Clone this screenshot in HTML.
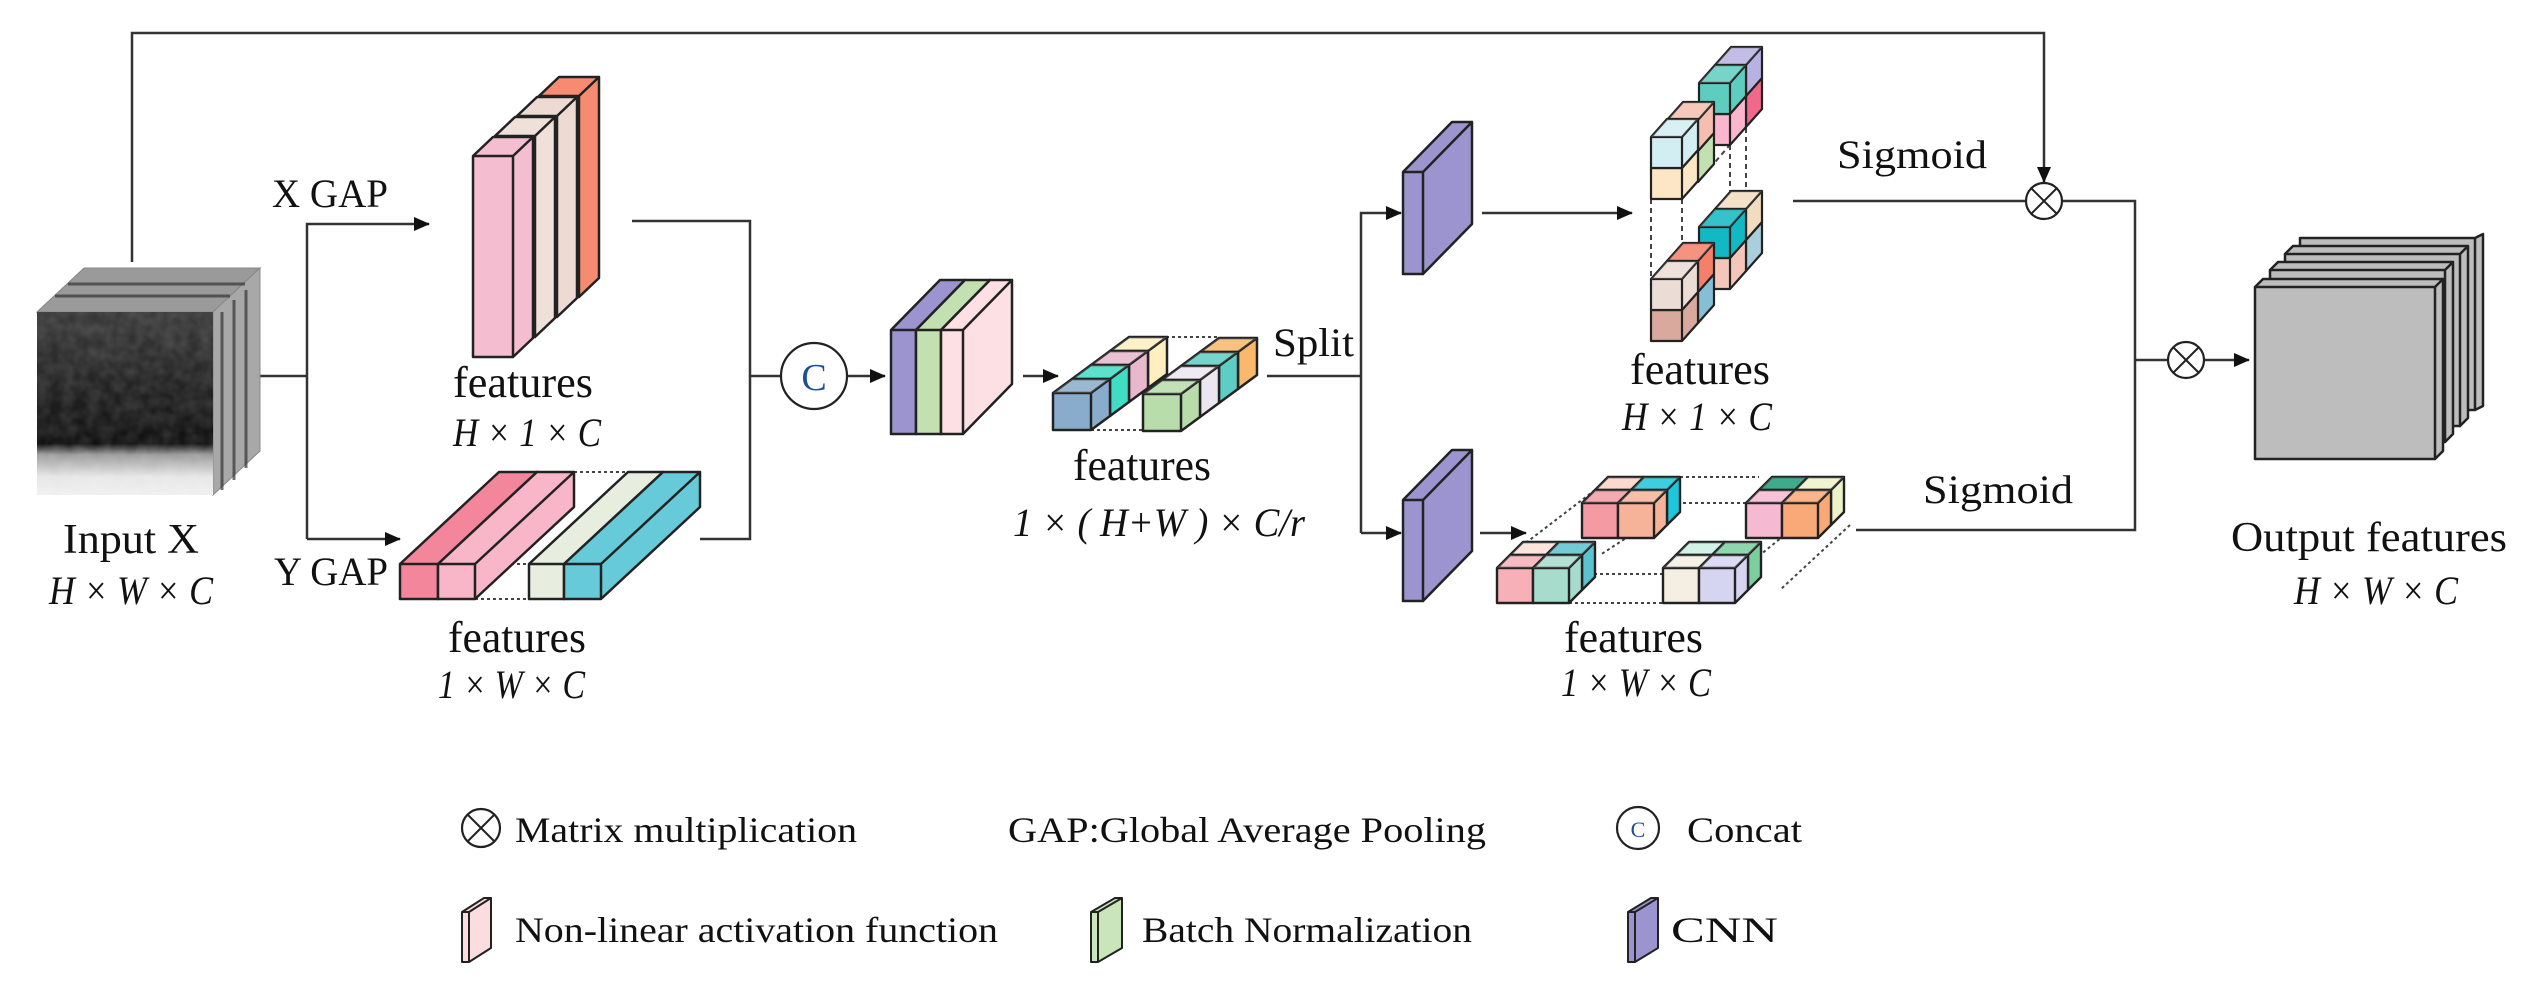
<!DOCTYPE html>
<html><head><meta charset="utf-8"><style>
html,body{margin:0;padding:0;background:#fff;}
svg{display:block;}
text{font-family:"Liberation Serif",serif;fill:#111;}
.it{font-style:italic;}
</style></head><body>
<svg width="2546" height="1008" viewBox="0 0 2546 1008" xmlns="http://www.w3.org/2000/svg">
<defs>
<marker id="ar" markerWidth="16" markerHeight="14" refX="15" refY="7" orient="auto" markerUnits="userSpaceOnUse">
<path d="M0,0 L16,7 L0,14 z" fill="#111"/></marker>
<linearGradient id="img" x1="0" y1="0" x2="0" y2="1">
<stop offset="0" stop-color="#3a3a3a"/><stop offset="0.5" stop-color="#1e1e1e"/><stop offset="0.72" stop-color="#111"/><stop offset="0.78" stop-color="#9a9a9a"/><stop offset="0.9" stop-color="#e6e6e6"/><stop offset="1" stop-color="#f0f0f0"/></linearGradient>
<filter id="noise" x="0" y="0" width="100%" height="100%"><feTurbulence type="fractalNoise" baseFrequency="0.08" numOctaves="2" seed="3"/><feColorMatrix type="matrix" values="0 0 0 0 1  0 0 0 0 1  0 0 0 0 1  0.6 0 0 0 -0.15"/></filter>
<g id="cA"><path d="M0,0h38v37h-38z M0,0l19,-14h38l-19,14z M38,0l19,-14v37l-19,14z" stroke="#222" stroke-width="2.5" stroke-linejoin="round"/><path d="M0,0l19,-14h38l-19,14z" fill="#fff" opacity=".15"/></g>
<g id="cB"><path d="M0,0h31v31h-31z M0,0l16,-18h31l-16,18z M31,0l16,-18v31l-16,18z" stroke="#222" stroke-width="2.2" stroke-linejoin="round"/><path d="M0,0l16,-18h31l-16,18z" fill="#fff" opacity=".15"/></g>
<g id="cC"><path d="M0,0h36v35h-36z M0,0l13,-13h36l-13,13z M36,0l13,-13v35l-13,13z" stroke="#222" stroke-width="2.4" stroke-linejoin="round"/><path d="M0,0l13,-13h36l-13,13z" fill="#fff" opacity=".15"/></g>
</defs>

<g fill="none" stroke="#333" stroke-width="2.5">
<path d="M132,262 V33 H2044 V182" marker-end="url(#ar)"/>
<path d="M260,376 H307"/>
<path d="M307,539 V224 H429" marker-end="url(#ar)"/>
<path d="M307,539 H400" marker-end="url(#ar)"/>
<path d="M632,221 H750 V539 H700"/>
<path d="M750,376 H780"/>
<path d="M848,376 H885" marker-end="url(#ar)"/>
<path d="M1023,376 H1058" marker-end="url(#ar)"/>
<path d="M1267,376 H1361"/>
<path d="M1361,533 V213 H1401" marker-end="url(#ar)"/>
<path d="M1361,533 H1401" marker-end="url(#ar)"/>
<path d="M1482,213 H1632" marker-end="url(#ar)"/>
<path d="M1480,533 H1526" marker-end="url(#ar)"/>
<path d="M1793,201 H2026"/>
<path d="M2062,201 H2135 V530 H1856"/>
<path d="M2135,360 H2168"/>
<path d="M2204,360 H2249" marker-end="url(#ar)"/>
</g>
<g fill="#fff" stroke="#222" stroke-width="2.2">
<circle cx="2044" cy="201" r="18"/><circle cx="2186" cy="360" r="18"/>
<circle cx="814" cy="376" r="33"/>
<circle cx="481" cy="828" r="19"/><circle cx="1638" cy="828" r="21"/>
</g>
<g stroke="#222" stroke-width="2">
<path d="M2031,188 L2057,214 M2057,188 L2031,214"/>
<path d="M2173,347 L2199,373 M2199,347 L2173,373"/>
<path d="M468,815 L494,841 M494,815 L468,841"/>
</g>
<text x="814" y="390" font-size="38" text-anchor="middle" style="fill:#1a4f9c">C</text>
<text x="1638" y="837" font-size="22" text-anchor="middle" style="fill:#1a4f9c">C</text>

<polygon points="37,312 84,268 260,268 213,312" fill="#9a9a9a" stroke="#888"/>
<polygon points="213,312 260,268 260,451 213,495" fill="#a8a8a8" stroke="#888"/>
<g stroke="#333" stroke-width="3" fill="none" opacity=".7">
<path d="M55,296 H230 M68,284 H245 M222,312 V490 M234,300 V480 M246,290 V468"/>
</g>
<rect x="37" y="312" width="176" height="183" fill="url(#img)"/>
<rect x="37" y="312" width="176" height="183" filter="url(#noise)" opacity=".35"/>

<g stroke="#222" stroke-width="2.5" stroke-linejoin="round">
<path d="M539,96h40v201h-40z M539,96l20,-19h40l-20,19z M579,96l20,-19v201l-20,19z" fill="#f58c72"/>
<path d="M517,116h40v201h-40z M517,116l20,-19h40l-20,19z M557,116l20,-19v201l-20,19z" fill="#eddad2"/>
<path d="M495,136h40v201h-40z M495,136l20,-19h40l-20,19z M535,136l20,-19v201l-20,19z" fill="#efe0da"/>
<path d="M473,156h40v201h-40z M473,156l20,-19h40l-20,19z M513,156l20,-19v201l-20,19z" fill="#f4bdd0"/>
</g>

<g stroke="#444" stroke-width="2" stroke-dasharray="3,3" fill="none">
<path d="M574,472 H628 M475,599 H529 M475,564 H529"/>
</g>
<g stroke="#222" stroke-width="2.5" stroke-linejoin="round">
<path d="M400,564h38v35h-38z M400,564l99,-92h38l-99,92z M438,564l99,-92v35l-99,92z" fill="#f4869c"/>
<path d="M438,564h37v35h-37z M438,564l99,-92h37l-99,92z M475,564l99,-92v35l-99,92z" fill="#f8b6c8"/>
<path d="M529,564h35v35h-35z M529,564l99,-92h35l-99,92z M564,564l99,-92v35l-99,92z" fill="#e8eedf"/>
<path d="M564,564h37v35h-37z M564,564l99,-92h37l-99,92z M601,564l99,-92v35l-99,92z" fill="#67cad8"/>
</g>

<g stroke="#222" stroke-width="2.5" stroke-linejoin="round">
<path d="M891,330h25v104h-25z M891,330l49,-50h25l-49,50z M916,330l49,-50v104l-49,50z" fill="#9b94cf"/>
<path d="M916,330h25v104h-25z M916,330l49,-50h25l-49,50z M941,330l49,-50v104l-49,50z" fill="#c3e0b0"/>
<path d="M941,330h22v104h-22z M941,330l49,-50h22l-49,50z M963,330l49,-50v104l-49,50z" fill="#fde0e3"/>
</g>

<g stroke="#444" stroke-width="2" stroke-dasharray="3,3" fill="none">
<path d="M1148,337 H1220 M1091,430 H1143 M1091,393 H1143"/>
</g>
<use href="#cA" x="1110" y="351" fill="#fdefc0"/>
<use href="#cA" x="1091" y="365" fill="#e8b8cc"/>
<use href="#cA" x="1072" y="379" fill="#40dcc4"/>
<use href="#cA" x="1053" y="393" fill="#8aaccc"/>
<use href="#cA" x="1200" y="352" fill="#f9b86b"/>
<use href="#cA" x="1181" y="366" fill="#5ecdc4"/>
<use href="#cA" x="1162" y="380" fill="#ece6f0"/>
<use href="#cA" x="1143" y="394" fill="#b8dcaa"/>

<g stroke="#222" stroke-width="2.5" stroke-linejoin="round" fill="#9b94cf">
<path d="M1403,172h20v102h-20z M1403,172l49,-50h20l-49,50z M1423,172l49,-50v102l-49,50z"/>
<path d="M1403,500h20v101h-20z M1403,500l49,-50h20l-49,50z M1423,500l49,-50v101l-49,50z"/>
</g>

<g stroke="#444" stroke-width="2" stroke-dasharray="5,4" fill="none">
<path d="M1651,199 V278 M1682,199 V278 M1730,145 V226 M1746,110 V208 M1667,168 L1730,96 M1698,182 L1746,126"/>
</g>
<use href="#cB" x="1715" y="96" fill="#f0698a"/>
<use href="#cB" x="1715" y="65" fill="#b8b1e3"/>
<use href="#cB" x="1699" y="114" fill="#fbb6cd"/>
<use href="#cB" x="1699" y="83" fill="#5ecdbf"/>
<use href="#cB" x="1667" y="151" fill="#c3e0b0"/>
<use href="#cB" x="1667" y="120" fill="#f5beb0"/>
<use href="#cB" x="1651" y="168" fill="#fde6c6"/>
<use href="#cB" x="1651" y="137" fill="#d2eef2"/>
<use href="#cB" x="1715" y="240" fill="#a9cfdb"/>
<use href="#cB" x="1715" y="209" fill="#f1dcbf"/>
<use href="#cB" x="1699" y="258" fill="#f3c6b9"/>
<use href="#cB" x="1699" y="227" fill="#12b8c4"/>
<use href="#cB" x="1667" y="292" fill="#86bfd5"/>
<use href="#cB" x="1667" y="261" fill="#f4806a"/>
<use href="#cB" x="1651" y="310" fill="#d8a99c"/>
<use href="#cB" x="1651" y="279" fill="#ecdcd6"/>

<g stroke="#444" stroke-width="2" stroke-dasharray="3,3" fill="none">
<path d="M1680,477 H1759 M1653,503 H1746 M1582,574 H1663 M1569,603 H1663 M1595,490 L1510,555 M1680,503 L1600,555 M1840,490 L1760,555 M1850,525 L1780,590"/>
</g>
<use href="#cC" x="1595" y="490" fill="#fbd3c5"/>
<use href="#cC" x="1631" y="490" fill="#1cc6dc"/>
<use href="#cC" x="1582" y="503" fill="#f49aa3"/>
<use href="#cC" x="1618" y="503" fill="#f7b39a"/>
<use href="#cC" x="1759" y="490" fill="#1d9e78"/>
<use href="#cC" x="1795" y="490" fill="#eef2c8"/>
<use href="#cC" x="1746" y="503" fill="#f5b9d1"/>
<use href="#cC" x="1782" y="503" fill="#f9a877"/>
<use href="#cC" x="1510" y="555" fill="#fde0d8"/>
<use href="#cC" x="1546" y="555" fill="#5bc2cf"/>
<use href="#cC" x="1497" y="568" fill="#f8b0b8"/>
<use href="#cC" x="1533" y="568" fill="#a7dccd"/>
<use href="#cC" x="1676" y="555" fill="#c8f0e3"/>
<use href="#cC" x="1712" y="555" fill="#7bcf9f"/>
<use href="#cC" x="1663" y="568" fill="#f5efe3"/>
<use href="#cC" x="1699" y="568" fill="#d5d5f2"/>

<g stroke="#222" stroke-width="2.5" stroke-linejoin="round" fill="#bdbdbd">
<path d="M2300,238h175v172h-175z M2475,238l8,-4v172l-8,4z"/>
<path d="M2285,254h175v172h-175z M2285,254l8,-8h175l-8,8z M2460,254l8,-8v172l-8,8z"/>
<path d="M2270,270h175v172h-175z M2270,270l8,-8h175l-8,8z M2445,270l8,-8v172l-8,8z"/>
<path d="M2255,287h180v172h-180z M2255,287l8,-8h180l-8,8z M2435,287l8,-8v172l-8,8z"/>
</g>

<g font-size="40">
<text x="272" y="207" textLength="116" lengthAdjust="spacingAndGlyphs">X GAP</text>
<text x="274" y="585" textLength="114" lengthAdjust="spacingAndGlyphs">Y GAP</text>
<text x="63" y="553" textLength="136" lengthAdjust="spacingAndGlyphs" font-size="42">Input X</text>
<text x="1273" y="356" textLength="81" lengthAdjust="spacingAndGlyphs">Split</text>
<text x="1837" y="168" textLength="150" lengthAdjust="spacingAndGlyphs">Sigmoid</text>
<text x="1923" y="503" textLength="150" lengthAdjust="spacingAndGlyphs">Sigmoid</text>
<text x="2231" y="551" textLength="276" lengthAdjust="spacingAndGlyphs" font-size="42">Output features</text>
</g>
<g font-size="44">
<text x="453" y="397" textLength="140" lengthAdjust="spacingAndGlyphs">features</text>
<text x="448" y="652" textLength="138" lengthAdjust="spacingAndGlyphs">features</text>
<text x="1073" y="480" textLength="138" lengthAdjust="spacingAndGlyphs">features</text>
<text x="1630" y="384" textLength="140" lengthAdjust="spacingAndGlyphs">features</text>
<text x="1564" y="652" textLength="139" lengthAdjust="spacingAndGlyphs">features</text>
</g>
<g font-size="40">
<text class="it" x="49" y="604" textLength="164" lengthAdjust="spacingAndGlyphs">H × W × C</text>
<text class="it" x="453" y="446" textLength="148" lengthAdjust="spacingAndGlyphs">H × 1 × C</text>
<text class="it" x="438" y="698" textLength="147" lengthAdjust="spacingAndGlyphs">1 × W × C</text>
<text class="it" x="1013" y="536" textLength="292" lengthAdjust="spacingAndGlyphs">1 × ( H+W ) × C/r</text>
<text class="it" x="1622" y="430" textLength="150" lengthAdjust="spacingAndGlyphs">H × 1 × C</text>
<text class="it" x="1561" y="696" textLength="150" lengthAdjust="spacingAndGlyphs">1 × W × C</text>
<text class="it" x="2294" y="604" textLength="164" lengthAdjust="spacingAndGlyphs">H × W × C</text>
</g>

<g stroke="#222" stroke-width="2" stroke-linejoin="round">
<path d="M462,912h7v50h-7z M462,912l22,-14h7l-22,14z M469,912l22,-14v50l-22,14z" fill="#fbdde0"/>
<path d="M1091,912h7v50h-7z M1091,912l24,-14h7l-24,14z M1098,912l24,-14v50l-24,14z" fill="#c9e5b9"/>
<path d="M1628,912h7v50h-7z M1628,912l23,-14h7l-23,14z M1635,912l23,-14v50l-23,14z" fill="#9b94cf"/>
</g>
<g font-size="36">
<text x="515" y="842" textLength="342" lengthAdjust="spacingAndGlyphs">Matrix multiplication</text>
<text x="1008" y="842" textLength="478" lengthAdjust="spacingAndGlyphs">GAP:Global Average Pooling</text>
<text x="1687" y="842" textLength="115" lengthAdjust="spacingAndGlyphs">Concat</text>
<text x="515" y="942" textLength="483" lengthAdjust="spacingAndGlyphs">Non-linear activation function</text>
<text x="1142" y="942" textLength="330" lengthAdjust="spacingAndGlyphs">Batch Normalization</text>
<text x="1671" y="942" textLength="107" lengthAdjust="spacingAndGlyphs">CNN</text>
</g>
</svg>
</body></html>
